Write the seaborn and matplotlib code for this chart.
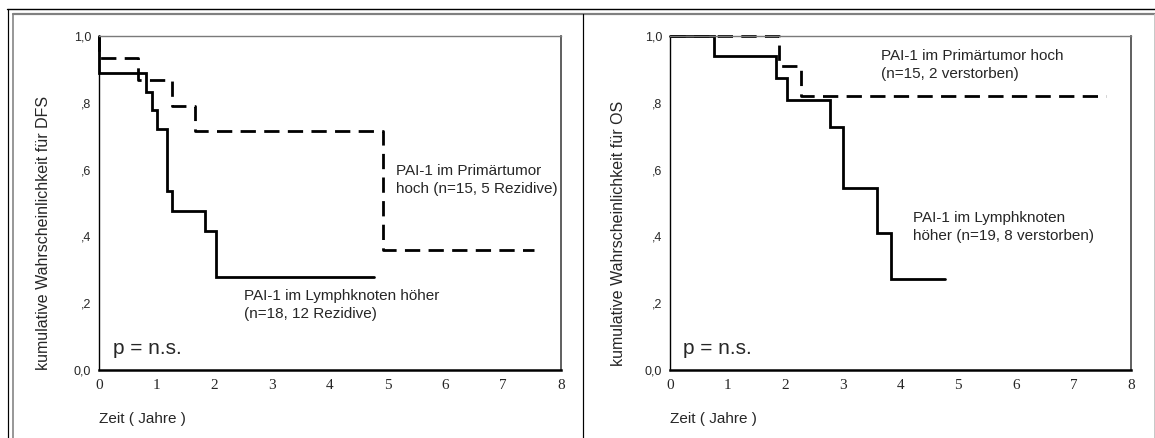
import matplotlib
matplotlib.use("Agg")
import matplotlib.pyplot as plt
from matplotlib.lines import Line2D
import seaborn as sns
import pandas as pd

# ---------------- data ----------------
# Left panel: DFS
dfs_lymph_t = [0, 0, 0.82, 0.91, 1.01, 1.17, 1.27, 1.83, 2.03, 4.76]
dfs_lymph_s = [1.0, 0.889, 0.833, 0.778, 0.722, 0.535, 0.476, 0.417, 0.278, 0.278]
dfs_prim_t = [0, 0, 0.675, 1.27, 1.67, 4.92, 7.54]
dfs_prim_s = [1.0, 0.933, 0.867, 0.79, 0.717, 0.36, 0.36]
# Right panel: OS
os_lymph_t = [0, 0.76, 1.84, 2.03, 2.77, 3.00, 3.60, 3.84, 4.77]
os_lymph_s = [1.0, 0.94, 0.875, 0.807, 0.727, 0.545, 0.41, 0.273, 0.273]
os_prim_t = [0, 1.90, 2.27, 7.56]
os_prim_s = [1.0, 0.91, 0.82, 0.82]

x_ticks = [0, 1, 2, 3, 4, 5, 6, 7, 8]
y_ticks = [0.0, 0.2, 0.4, 0.6, 0.8, 1.0]
y_ticklabels = ["0,0", ",2", ",4", ",6", ",8", "1,0"]

dfs_ylabel = "kumulative Wahrscheinlichkeit für DFS"
os_ylabel = "kumulative Wahrscheinlichkeit für OS"
xlabel = "Zeit ( Jahre )"
dfs_prim_text = "PAI-1 im Primärtumor\nhoch (n=15, 5 Rezidive)"
dfs_lymph_text = "PAI-1 im Lymphknoten höher\n(n=18, 12 Rezidive)"
os_prim_text = "PAI-1 im Primärtumor hoch\n(n=15, 2 verstorben)"
os_lymph_text = "PAI-1 im Lymphknoten\nhöher (n=19, 8 verstorben)"
p_text = "p = n.s."

# ---------------- style ----------------
sns.set_theme(style="white")
plt.rcParams["font.family"] = ["Liberation Sans", "DejaVu Sans"]

W, H = 1155, 438
fig = plt.figure(figsize=(W / 100, H / 100), dpi=100)
fig.patch.set_facecolor("white")

def px_ax(x0, x1, ytop, ybot):
    return [x0 / W, 1 - ybot / H, (x1 - x0) / W, (ybot - ytop) / H]

axL = fig.add_axes(px_ax(99, 561, 36, 370))
axR = fig.add_axes(px_ax(670, 1131, 36, 370))

def build(tl, sl, tp, sp):
    return pd.DataFrame({
        "t": list(tl) + list(tp),
        "s": list(sl) + list(sp),
        "g": ["lymph"] * len(tl) + ["prim"] * len(tp),
    })

def draw(ax, df, ylabel, ylab_x, prim_txt, prim_xy, lymph_txt, lymph_xy, p_xy):
    sns.lineplot(data=df, x="t", y="s", style="g", units="g", estimator=None,
                 sort=False, drawstyle="steps-post", color="black",
                 dashes={"lymph": "", "prim": (5.5, 3)}, linewidth=2.0,
                 legend=False, ax=ax)
    for ln in ax.lines:
        ln.set_clip_on(False)
        ln.set_solid_joinstyle("miter")
    ax.set_xlim(0, 8)
    ax.set_ylim(0, 1)
    ax.set_xticks(x_ticks)
    ax.set_xticklabels([str(v) for v in x_ticks], fontfamily="Liberation Serif", fontsize=11)
    ax.set_yticks(y_ticks)
    ax.set_yticklabels(y_ticklabels, fontsize=9)
    ax.tick_params(axis="both", direction="out", length=2.5, width=2.2, color="black", pad=3)
    ax.tick_params(axis="x", pad=4)
    for side in ["left", "bottom"]:
        ax.spines[side].set_color("black")
    ax.spines["left"].set_linewidth(1.0)
    ax.spines["bottom"].set_linewidth(1.8)
    ax.spines["top"].set_color("#7a7a7a")
    ax.spines["top"].set_linewidth(1.0)
    ax.spines["right"].set_color("#444444")
    ax.spines["right"].set_linewidth(1.2)
    ax.set_ylabel(ylabel, fontsize=11.5)
    ax.yaxis.set_label_coords(ylab_x, 0.41)
    ax.set_xlabel(xlabel, fontsize=11, ha="left", va="center")
    ax.xaxis.set_label_coords(0.0, -0.147)
    ax.text(prim_xy[0], prim_xy[1], prim_txt, fontsize=11, ha="left", va="center",
            linespacing=1.35)
    ax.text(lymph_xy[0], lymph_xy[1], lymph_txt, fontsize=11, ha="left", va="center",
            linespacing=1.35)
    ax.text(p_xy[0], p_xy[1], p_text, fontsize=15, ha="left", va="center")

draw(axL, build(dfs_lymph_t, dfs_lymph_s, dfs_prim_t, dfs_prim_s), dfs_ylabel, -0.104,
     dfs_prim_text, (5.14, 0.57), dfs_lymph_text, (2.51, 0.195), (0.24, 0.063))
draw(axR, build(os_lymph_t, os_lymph_s, os_prim_t, os_prim_s), os_ylabel, -0.095,
     os_prim_text, (3.66, 0.912), os_lymph_text, (4.22, 0.428), (0.23, 0.063))

# ---------------- outer frame ----------------
def fx(x):
    return x / W

def fy(y):
    return 1 - y / H

frame = [
    ((7, 1155), (9, 9), "black", 1.4),
    ((13, 1155), (14, 14), "#808080", 2.2),
    ((7.5, 7.5), (9, 438), "black", 1.2),
    ((12.5, 12.5), (14, 438), "#808080", 1.6),
    ((583, 583), (14, 438), "black", 1.2),
    ((1153.5, 1153.5), (14, 438), "#c8c8c8", 1.0),
]
for xs, ys, c, lw in frame:
    fig.add_artist(Line2D([fx(xs[0]), fx(xs[1])], [fy(ys[0]), fy(ys[1])],
                          color=c, linewidth=lw * 0.72, transform=fig.transFigure))

fig.savefig("out.png", dpi=100, facecolor="white")
